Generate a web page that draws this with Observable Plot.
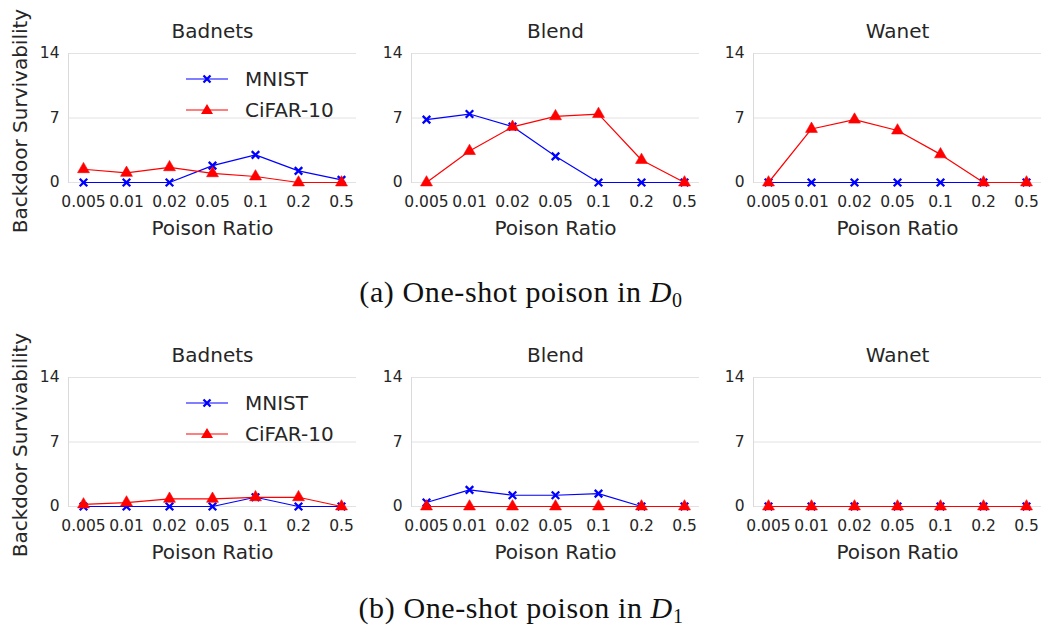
<!DOCTYPE html>
<html>
<head>
<meta charset="utf-8">
<script src="https://cdn.jsdelivr.net/npm/d3@7"></script>
<script src="https://cdn.jsdelivr.net/npm/@observablehq/plot@0.6"></script>
<style>
  html, body { margin: 0; padding: 0; background: #fff; }
  #root { position: relative; width: 1042px; height: 628px; overflow: hidden; font-family: "DejaVu Sans", sans-serif; color: #262626; }
  .panel { position: absolute; }
  .caption { position: absolute; left: 0; width: 1042px; text-align: center; font-family: "Liberation Serif", serif; font-size: 30px; letter-spacing: 0.6px; line-height: 30px; padding-bottom: 4px; color: #111; }
  .caption sub { font-size: 20px; vertical-align: -5px; line-height: 0; }
  .legend { position: absolute; font-size: 20px; color: #262626; }
  .legend .row { display: flex; align-items: center; height: 31px; }
  .legend svg { width: 42px; height: 20px; margin-right: 17px; }
</style>
</head>
<body>
<div id="root"></div>
<script>
// ---- data ----
const ratios = ["0.005", "0.01", "0.02", "0.05", "0.1", "0.2", "0.5"];
const attacks = ["Badnets", "Blend", "Wanet"];
const datasets = ["MNIST", "CiFAR-10"];
const yTicks = [0, 7, 14];
const captions = ["(a) One-shot poison in ", "(b) One-shot poison in "];
const captionSubs = ["0", "1"];

// (a) One-shot poison in D0
const d0BadnetsMnist = [0, 0, 0, 1.83, 3.0, 1.26, 0.29];
const d0BadnetsCifar = [1.44, 1.04, 1.65, 1.0, 0.65, 0, 0];
const d0BlendMnist   = [6.82, 7.43, 6.07, 2.84, 0, 0, 0];
const d0BlendCifar   = [0, 3.41, 6.03, 7.18, 7.43, 2.44, 0];
const d0WanetMnist   = [0, 0, 0, 0, 0, 0, 0];
const d0WanetCifar   = [0, 5.81, 6.82, 5.64, 3.05, 0, 0];

// (b) One-shot poison in D1
const d1BadnetsMnist = [0, 0, 0, 0, 1.0, 0, 0];
const d1BadnetsCifar = [0.22, 0.43, 0.83, 0.83, 1.0, 1.0, 0];
const d1BlendMnist   = [0.43, 1.8, 1.22, 1.22, 1.4, 0, 0];
const d1BlendCifar   = [0, 0, 0, 0, 0, 0, 0];
const d1WanetMnist   = [0, 0, 0, 0, 0, 0, 0];
const d1WanetCifar   = [0, 0, 0, 0, 0, 0, 0];

const rowsData = [
  [[d0BadnetsMnist, d0BadnetsCifar], [d0BlendMnist, d0BlendCifar], [d0WanetMnist, d0WanetCifar]],
  [[d1BadnetsMnist, d1BadnetsCifar], [d1BlendMnist, d1BlendCifar], [d1WanetMnist, d1WanetCifar]]
];

// ---- layout ----
const BLUE = "#0000ff", RED = "#ff0000", TEXT = "#262626";
const colLeft = [0, 343, 685];
const rowTop = [0, 323];
const rowMarginTop = [53, 54];
const W = 356, H = 258;

const root = document.getElementById("root");

function toRows(values, name) {
  return ratios.map((r, i) => ({ ratio: r, value: values[i], dataset: name }));
}

function makePanel(row, col) {
  const [m, c] = rowsData[row][col];
  const mRows = toRows(m, datasets[0]);
  const cRows = toRows(c, datasets[1]);
  const marks = [
    Plot.ruleY(yTicks, { stroke: "#e2e2e2", strokeWidth: 1 }),
    Plot.frame({ anchor: "left", stroke: "#dadada", strokeWidth: 1 }),
    Plot.line(mRows, { x: "ratio", y: "value", stroke: BLUE, strokeWidth: 1.2 }),
    Plot.dot(mRows, { x: "ratio", y: "value", symbol: "times", r: 3.5, stroke: BLUE, strokeWidth: 2.3 }),
    Plot.line(cRows, { x: "ratio", y: "value", stroke: RED, strokeWidth: 1.2 }),
    Plot.dot(cRows, { x: "ratio", y: "value", symbol: "triangle", r: 4.4, fill: RED, stroke: RED, strokeWidth: 0.6 }),
    Plot.text([attacks[col]], { frameAnchor: "top", lineAnchor: "middle", dy: -22, fontSize: 20, fill: TEXT }),
    Plot.text(["Poison Ratio"], { frameAnchor: "bottom", lineAnchor: "middle", dy: 46, fontSize: 20, fill: TEXT })
  ];
  if (col === 0) {
    marks.push(Plot.text(["Backdoor Survivability"], {
      frameAnchor: "left", textAnchor: "middle", lineAnchor: "middle", rotate: -90, dx: -48, dy: 3, fontSize: 20, fill: TEXT
    }));
  }
  const svg = Plot.plot({
    width: W,
    height: H,
    marginLeft: 68,
    marginRight: 0,
    marginTop: rowMarginTop[row],
    marginBottom: H - rowMarginTop[row] - 129,
    x: { type: "point", domain: ratios, padding: 0.3, tickSize: 0, tickPadding: 13, label: null },
    y: { domain: [0, 14], ticks: yTicks, tickSize: 0, tickPadding: 9, label: null },
    style: { fontFamily: "DejaVu Sans", fontSize: "15.5px", color: TEXT, background: "transparent", overflow: "visible" },
    marks
  });
  const wrap = document.createElement("div");
  wrap.className = "panel";
  wrap.style.left = colLeft[col] + "px";
  wrap.style.top = rowTop[row] + "px";
  wrap.appendChild(svg);
  root.appendChild(wrap);
}

for (let r = 0; r < 2; r++) for (let c = 0; c < 3; c++) makePanel(r, c);

// legends (first column of each row)
const legendTops = [63, 387];
const legendSym = [
  `<line x1="0" y1="10" x2="42" y2="10" stroke="${BLUE}" stroke-width="1.2"/><path d="M17.5,6.5L24.5,13.5M24.5,6.5L17.5,13.5" stroke="${BLUE}" stroke-width="2.3"/>`,
  `<line x1="0" y1="10" x2="42" y2="10" stroke="${RED}" stroke-width="1.2"/><path d="M21,4L27,14L15,14Z" fill="${RED}"/>`
];
legendTops.forEach(t => {
  const lg = document.createElement("div");
  lg.className = "legend";
  lg.style.left = "186px";
  lg.style.top = t + "px";
  datasets.forEach((d, i) => {
    const rowEl = document.createElement("div");
    rowEl.className = "row";
    rowEl.innerHTML = `<svg viewBox="0 0 42 20">${legendSym[i]}</svg><span>${d}</span>`;
    lg.appendChild(rowEl);
  });
  root.appendChild(lg);
});

// captions
const captionY = [292, 608];
captions.forEach((txt, i) => {
  const cap = document.createElement("div");
  cap.className = "caption";
  cap.style.top = (captionY[i] - 15) + "px";
  cap.innerHTML = `${txt}<i>D</i><sub>${captionSubs[i]}</sub>`;
  root.appendChild(cap);
});
</script>
</body>
</html>
